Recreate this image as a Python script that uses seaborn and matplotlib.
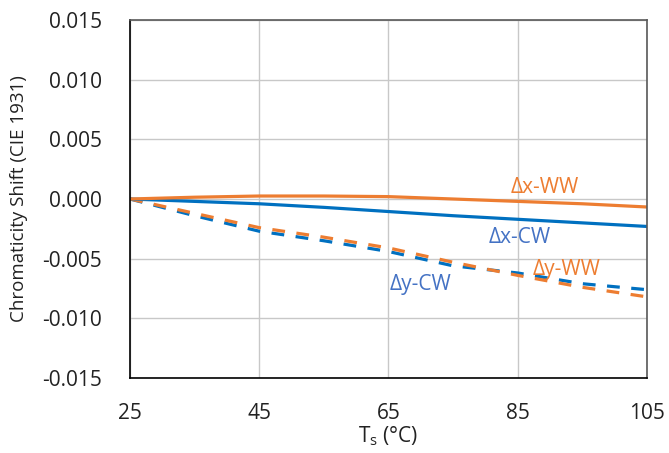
import numpy as np
import pandas as pd
import matplotlib
matplotlib.use("Agg")
import matplotlib.pyplot as plt
import seaborn as sns

# substrate temperature (°C) and chromaticity shifts
temps = [25, 35, 45, 55, 65, 75, 85, 95, 105]
dx_ww = [0, 0.00015, 0.00025, 0.00025, 0.0002, 0.0, -0.0002, -0.0004, -0.00067]
dx_cw = [0, -0.0002, -0.0004, -0.0007, -0.00105, -0.0014, -0.0017, -0.002, -0.0023]
dy_cw = [0, -0.0014, -0.0027, -0.0035, -0.0044, -0.0056, -0.0062, -0.0071, -0.0076]
dy_ww = [0, -0.0012, -0.0024, -0.0032, -0.0041, -0.0053, -0.0064, -0.0074, -0.0082]
series_names = ["Δx-WW", "Δx-CW", "Δy-CW", "Δy-WW"]

orange = "#ED7D31"
blue = "#0070C0"
label_blue = "#4472C4"

df = pd.DataFrame({
    "T": temps * 4,
    "shift": dx_ww + dx_cw + dy_cw + dy_ww,
    "series": np.repeat(series_names, len(temps)),
})

sns.set_style("white")
plt.rcParams["font.family"] = ["Open Sans", "DejaVu Sans"]
plt.rcParams["mathtext.fontset"] = "custom"
plt.rcParams["mathtext.rm"] = "Open Sans"

fig = plt.figure(figsize=(6.69, 4.53), dpi=100)
ax = fig.add_axes([0.1943, 0.1656, 0.7727, 0.7902])

palette = {"Δx-WW": orange, "Δx-CW": blue, "Δy-CW": blue, "Δy-WW": orange}
for name in ["Δy-CW", "Δy-WW", "Δx-CW", "Δx-WW"]:
    sub = df[df["series"] == name]
    line_ax = sns.lineplot(data=sub, x="T", y="shift", color=palette[name],
                           linewidth=2.3, ax=ax, legend=False)
    if name.startswith("Δy"):
        line_ax.lines[-1].set_dashes((4, 3.6))

ax.set_xlim(25, 105)
ax.set_ylim(-0.015, 0.015)
ax.set_xticks([25, 45, 65, 85, 105])
ax.set_yticks(np.arange(-0.015, 0.0151, 0.005))
ax.set_yticklabels([f"{v:.3f}" for v in np.arange(-0.015, 0.0151, 0.005)])
ax.grid(True, color="#c8c8c8", linewidth=1)
ax.set_axisbelow(True)

for side in ["left", "bottom"]:
    ax.spines[side].set_color("black")
    ax.spines[side].set_linewidth(1.2)
for side in ["top", "right"]:
    ax.spines[side].set_color("#595959")
    ax.spines[side].set_linewidth(1.2)

ax.tick_params(axis="both", direction="out", length=6, width=1, color="black",
               labelsize=15, labelcolor="#222222")
ax.tick_params(axis="y", pad=14)
ax.tick_params(axis="x", pad=12)

ax.set_xlabel("T$_\\mathregular{s}$ (°C)", fontsize=15, color="#222222", labelpad=0)
ax.set_ylabel("Chromaticity Shift (CIE 1931)", fontsize=13.5, color="#222222", labelpad=10)

ax.text(89.2, 0.0010, "Δx-WW", color=orange, fontsize=15, ha="center", va="center")
ax.text(85.3, -0.0032, "Δx-CW", color=label_blue, fontsize=15, ha="center", va="center")
ax.text(92.6, -0.0059, "Δy-WW", color=orange, fontsize=15, ha="center", va="center")
ax.text(70, -0.0072, "Δy-CW", color=label_blue, fontsize=15, ha="center", va="center")

fig.savefig("out.png", dpi=100)
